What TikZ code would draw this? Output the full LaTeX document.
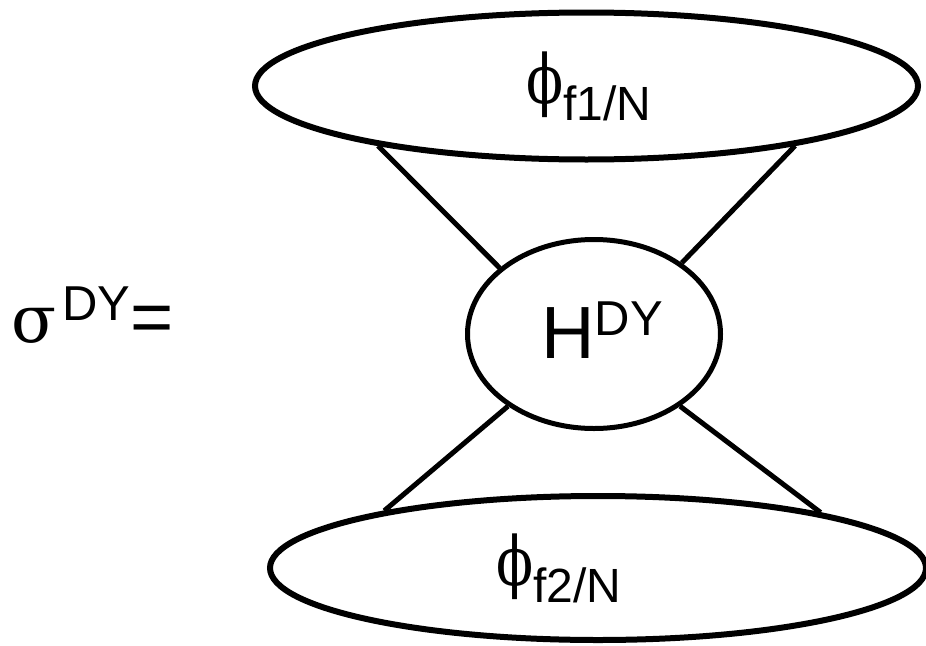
\documentclass[tikz,border=0pt]{standalone}
\usepackage{graphicx}
\usepackage{fontspec}
\setmainfont{Liberation Sans}
\newfontfamily\greekfont{DejaVu Serif}
\usepackage{tikz}
\usetikzlibrary{shapes.geometric}
\definecolor{Ink}{HTML}{000000}

\newcommand{\bigsz}{\fontsize{74}{74}\selectfont}
\newcommand{\supsz}{\fontsize{49}{49}\selectfont}
\newcommand{\subsz}{\fontsize{48}{48}\selectfont}
\newcommand{\sigmasym}{{\greekfont\fontsize{66}{66}\selectfont σ}}
\newcommand{\phisym}{\scalebox{0.8}[1]{\greekfont\fontsize{68}{68}\selectfont ϕ}}

\begin{document}
\begin{tikzpicture}[x=1pt,y=-1pt,
    blob/.style={ellipse,draw=Ink,line width=6pt,inner sep=0pt},
    leg/.style={draw=Ink,line width=5pt},
    txt/.style={anchor=base west,inner sep=0pt,text=Ink}]
  \useasboundingbox (0,0) rectangle (926,645);
  % the two parton densities and the hard part
  \node[blob,minimum width=663pt,minimum height=147pt] (pdftop) at (586.5,86) {};
  \node[blob,minimum width=656pt,minimum height=144pt] (pdfbot) at (598,568) {};
  \node[blob,line width=5pt,minimum width=253pt,minimum height=189pt] (hard) at (594,334) {};
  \draw[leg] (pdftop.196) -- (hard.145);
  \draw[leg] (pdftop.344) -- (hard.39);
  \draw[leg] (hard.220) -- (pdfbot.165);
  \draw[leg] (hard.320) -- (pdfbot.14);
  % labels
  \node[txt] (lhs) at (11,342) {\sigmasym\hspace{6pt}\raisebox{22pt}{\supsz DY}\bigsz=};
  \node[txt] (hlabel) at (541,358) {\bigsz H\raisebox{23pt}{\supsz DY}};
  \node[txt] (ftop) at (526,103) {\phisym\raisebox{-17pt}{\subsz f1/N}};
  \node[txt] (fbot) at (496,585) {\phisym\raisebox{-17pt}{\subsz f2/N}};
\end{tikzpicture}
\end{document}
